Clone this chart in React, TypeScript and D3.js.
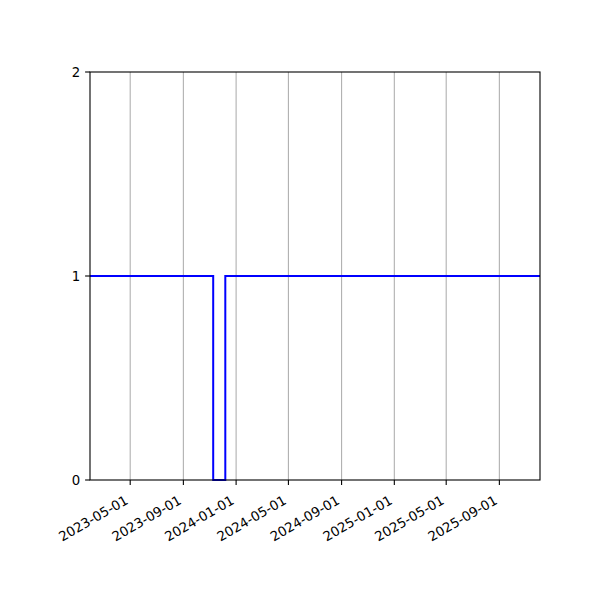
import { useEffect, useRef } from 'react'
import * as d3 from 'd3'

// step series: date, value
const dates = ['2023-01-28', '2023-11-09', '2023-12-07', '2025-12-04']
const values = [1, 0, 1, 1]
const xTicks = ['2023-05-01', '2023-09-01', '2024-01-01', '2024-05-01', '2024-09-01', '2025-01-01', '2025-05-01', '2025-09-01']
const yTicks = [0, 1, 2]

const parse = d3.timeParse('%Y-%m-%d')

export default function App() {
	const ref = useRef<SVGSVGElement>(null)

	const margins = { top: 72, right: 60, bottom: 120, left: 90 }
	const width = 600 - margins.left - margins.right
	const height = 600 - margins.top - margins.bottom

	useEffect(() => {
		const svg = d3.select(ref.current)
		svg.selectAll('*').remove()
		const g = svg.append('g').attr('transform', `translate(${margins.left},${margins.top})`)

		const data = dates.map((d, i) => ({ x: parse(d) as Date, y: values[i] }))

		const x = d3
			.scaleTime()
			.domain([data[0].x, data[data.length - 1].x])
			.range([0, width])
		const y = d3.scaleLinear().domain([0, 2]).range([height, 0])

		const font = "'DejaVu Sans', sans-serif"

		// vertical grid
		g.append('g')
			.selectAll('line')
			.data(xTicks)
			.enter()
			.append('line')
			.attr('x1', (d) => x(parse(d) as Date))
			.attr('x2', (d) => x(parse(d) as Date))
			.attr('y1', 0)
			.attr('y2', height)
			.attr('stroke', '#b0b0b0')
			.attr('stroke-width', 1.1)

		// line
		const line = d3
			.line<{ x: Date; y: number }>()
			.x((d) => x(d.x))
			.y((d) => y(d.y))
			.curve(d3.curveStepAfter)
		g.append('path')
			.datum(data)
			.attr('d', line)
			.attr('fill', 'none')
			.attr('stroke', '#0000ff')
			.attr('stroke-width', 2)

		// frame
		g.append('rect')
			.attr('width', width)
			.attr('height', height)
			.attr('fill', 'none')
			.attr('stroke', 'black')
			.attr('stroke-width', 1.1)

		// x ticks
		const xt = g
			.append('g')
			.selectAll('g')
			.data(xTicks)
			.enter()
			.append('g')
			.attr('transform', (d) => `translate(${x(parse(d) as Date)},${height})`)
		xt.append('line').attr('y2', 4.9).attr('stroke', 'black').attr('stroke-width', 1.1)
		xt.append('text')
			.attr('transform', 'translate(-1,23) rotate(-30)')
			.attr('text-anchor', 'end')
			.style('font', `13.3px ${font}`)
			.text((d) => d)

		// y ticks
		const yt = g
			.append('g')
			.selectAll('g')
			.data(yTicks)
			.enter()
			.append('g')
			.attr('transform', (d) => `translate(0,${y(d)})`)
		yt.append('line').attr('x2', -4.9).attr('stroke', 'black').attr('stroke-width', 1.1)
		yt.append('text')
			.attr('x', -9.7)
			.attr('dy', '0.35em')
			.attr('text-anchor', 'end')
			.style('font', `13.3px ${font}`)
			.text((d) => d)
	}, [])

	return <svg ref={ref} width={600} height={600} style={{ display: 'block', margin: -8 }} />
}
